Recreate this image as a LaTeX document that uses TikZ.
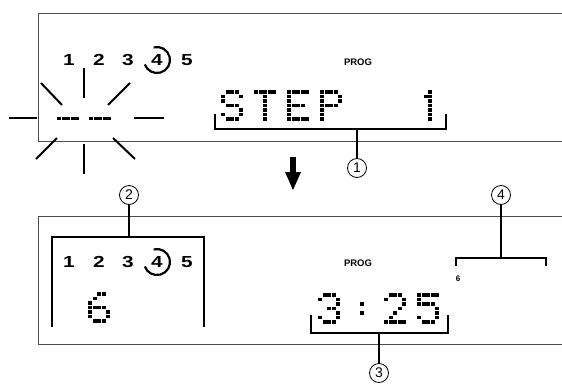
\documentclass[tikz,border=0pt]{standalone}
\usepackage{fontspec}
\setmainfont{Liberation Sans}
\newfontfamily\digitfont[FakeStretch=1.3]{Liberation Sans Bold}
\usetikzlibrary{calc}
% dot-matrix bitmaps (col/row)
\def\bmS{1/0,2/0,3/0,0/1,4/1,0/2,1/3,2/3,3/3,4/4,0/5,4/5,1/6,2/6,3/6}
\def\bmT{0/0,1/0,2/0,3/0,4/0,2/1,2/2,2/3,2/4,2/5,2/6}
\def\bmE{0/0,1/0,2/0,3/0,4/0,0/1,0/2,0/3,1/3,2/3,3/3,0/4,0/5,0/6,1/6,2/6,3/6,4/6}
\def\bmP{0/0,1/0,2/0,3/0,0/1,4/1,0/2,4/2,0/3,1/3,2/3,3/3,0/4,0/5,0/6}
\def\bmOne{2/0,1/1,2/1,2/2,2/3,2/4,2/5,2/6}
\def\bmThree{1/0,2/0,3/0,0/1,4/1,4/2,2/3,3/3,4/4,0/5,4/5,1/6,2/6,3/6}
\def\bmTwo{1/0,2/0,3/0,0/1,4/1,4/2,3/3,2/4,1/5,0/6,1/6,2/6,3/6,4/6}
\def\bmFive{0/0,1/0,2/0,3/0,4/0,0/1,0/2,1/2,2/2,3/2,4/3,4/4,0/5,4/5,1/6,2/6,3/6}
\def\bmSix{2/0,3/0,1/1,0/2,0/3,1/3,2/3,3/3,0/4,4/4,0/5,4/5,1/6,2/6,3/6}
\def\bmColon{2/2,2/4}
\def\bmDash{0/3,1/3,2/3,3/3,4/3}
\newcommand\dmc[3]{\foreach \c/\r in #3 {\fill (#1+\c*4.5,#2+\r*4.5) rectangle ++(4.1,3.7);}}
\begin{document}
\begin{tikzpicture}[x=1pt,y=-1pt,
  box/.style={draw=black!70, line width=1pt},
  brk/.style={draw=black, line width=1.1pt},
  ray/.style={draw=black, line width=2pt},
  num/.style={font=\digitfont\fontsize{16}{16}\selectfont, inner sep=0},
  prog/.style={font=\bfseries\fontsize{9.5}{9.5}\selectfont, inner sep=0},
  small/.style={font=\bfseries\fontsize{8}{8}\selectfont, inner sep=0},
  callout/.style={circle, draw, line width=0.8pt, minimum size=19pt, inner sep=0, font=\fontsize{14}{14}\selectfont},
  ring/.style={draw=black, line width=2.2pt}]
\useasboundingbox (0,0) rectangle (562,388);

% ---------- top panel ----------
\draw[box] (562,13) -- (38,13) -- (38,141) -- (562,141);
\node[num] (t1) at (69,60) {1};
\node[num] (t2) at (99,60) {2};
\node[num] (t3) at (128,60) {3};
\node[num] (t4) at (157,60) {4};
\node[num] (t5) at (187,60) {5};
\draw[ring] (t4.center) ++(-105:13) arc[start angle=-105, end angle=160, radius=13];
\node[prog] (p1) at (358,62) {PROG};

% blinking dashes
\dmc{57}{103}{\bmDash}
\dmc{89}{103}{\bmDash}
\draw[ray] (9,118) -- (37,118);
\draw[ray] (134,118) -- (164,118);
\draw[ray] (84,68) -- (84,98);
\draw[ray] (84,144) -- (84,174);
\draw[ray] (41,83) -- (62,105);
\draw[ray] (130,83) -- (108,105);
\draw[ray] (57,138) -- (36,159);
\draw[ray] (113,138) -- (135,159);

% STEP 1
\dmc{221}{90}{\bmS}
\dmc{254}{90}{\bmT}
\dmc{287}{90}{\bmE}
\dmc{320}{90}{\bmP}
\dmc{419}{90}{\bmOne}
\draw[brk] (215,114) -- (215,129) -- (446,129) -- (446,114);
\coordinate (b1) at (357,129);
\node[callout] (c1) at (357,168) {1};
\draw[brk] (b1) -- (c1);

% arrow
\fill (290,157) rectangle (296,173);
\fill (285,172) -- (301,172) -- (293,190) -- cycle;

% ---------- bottom panel ----------
\draw[box] (562,216) -- (38,216) -- (38,344) -- (562,344);
\draw[brk] (52,327) -- (52,237) -- (204,237) -- (204,327);
\coordinate (b2) at (129,237);
\node[callout] (c2) at (129,195) {2};
\draw[brk] (b2) -- (c2);
\node[num] (u1) at (69,262) {1};
\node[num] (u2) at (99,262) {2};
\node[num] (u3) at (128,262) {3};
\node[num] (u4) at (157,262) {4};
\node[num] (u5) at (187,262) {5};
\draw[ring] (u4.center) ++(-105:13) arc[start angle=-105, end angle=160, radius=13];
\dmc{88}{292}{\bmSix}

\node[prog] (p2) at (358,263) {PROG};
\dmc{318}{293}{\bmThree}
\dmc{351}{293}{\bmColon}
\dmc{384}{293}{\bmTwo}
\dmc{417}{293}{\bmFive}
\draw[brk] (311,315) -- (311,333) -- (448,333) -- (448,315);
\coordinate (b3) at (379,333);
\node[callout] (c3) at (379,373) {3};
\draw[brk] (b3) -- (c3);

\draw[brk] (456,266) -- (456,258) -- (546,258) -- (546,266);
\coordinate (b4) at (501,258);
\node[callout] (c4) at (501,195) {4};
\draw[brk] (b4) -- (c4);
\node[small] (s6) at (458,279) {6};
\end{tikzpicture}
\end{document}
